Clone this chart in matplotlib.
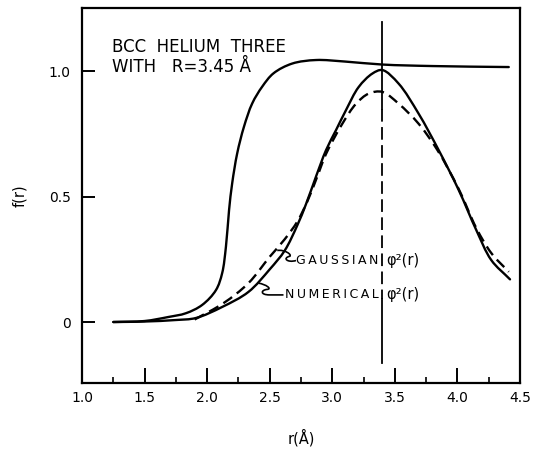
import numpy as np
import matplotlib.pyplot as plt
from matplotlib.path import Path
from matplotlib.patches import PathPatch
from matplotlib.ticker import FixedLocator

# --- data ---
r_f = [1.25, 1.5, 1.69, 1.83, 1.96, 2.07, 2.12, 2.15, 2.175, 2.20, 2.24, 2.294, 2.36,
       2.44, 2.53, 2.68, 2.87, 3.1, 3.4, 3.8, 4.41]
f_vals = [0.0, 0.004, 0.02, 0.035, 0.068, 0.127, 0.195, 0.30, 0.446, 0.553, 0.672, 0.778,
          0.871, 0.938, 0.991, 1.03, 1.044, 1.038, 1.026, 1.02, 1.016]

r_num = [1.25, 1.5, 1.75, 1.91, 2.12, 2.33, 2.5, 2.62, 2.72, 2.79, 2.87, 2.95, 3.03,
         3.11, 3.21, 3.32, 3.40, 3.53, 3.69, 3.85, 4.01, 4.15, 4.27, 4.42]
f_num = [0.0, 0.002, 0.008, 0.016, 0.06, 0.12, 0.21, 0.285, 0.385, 0.47, 0.58, 0.685, 0.765,
         0.845, 0.936, 0.99, 1.004, 0.95, 0.83, 0.685, 0.526, 0.367, 0.247, 0.17]

r_gau = [1.9, 2.13, 2.33, 2.5, 2.62, 2.72, 2.80, 2.88, 2.95, 3.08, 3.19, 3.29, 3.40,
         3.53, 3.69, 3.84, 4.01, 4.15, 4.27, 4.41]
f_gau = [0.01, 0.075, 0.155, 0.26, 0.33, 0.40, 0.48, 0.58, 0.67, 0.79, 0.87, 0.91, 0.917,
         0.87, 0.79, 0.685, 0.53, 0.375, 0.275, 0.2]

R_line = 3.40

x_ticks = [1.0, 1.5, 2.0, 2.5, 3.0, 3.5, 4.0, 4.5]
x_tick_labels = ['1.0', '1.5', '2.0', '2.5', '3.0', '3.5', '4.0', '4.5']
x_minor = [1.25, 1.75, 2.25, 2.75, 3.25, 3.75, 4.25]
y_ticks = [0.0, 0.5, 1.0]
y_tick_labels = ['0', '0.5', '1.0']

plt.rcParams['font.family'] = ['DejaVu Sans']

fig = plt.figure(figsize=(5.35, 4.49), dpi=100)
ax = fig.add_axes([0.1533, 0.147, 0.8187, 0.835])
ax.set_xlim(1.0, 4.5)
ax.set_ylim(-0.243, 1.251)

# scale factors so the smoothing works in (roughly) pixel-shaped space
SX, SY = 125.2, 251.0


def smooth_path(xs, ys, alpha=0.5):
    """Bezier path (centripetal Catmull-Rom) through the given data points."""
    pts = np.column_stack([np.asarray(xs, float) * SX, np.asarray(ys, float) * SY])
    n = len(pts)
    ext = np.vstack([2 * pts[0] - pts[1], pts, 2 * pts[-1] - pts[-2]])
    verts = [pts[0]]
    codes = [Path.MOVETO]
    for i in range(n - 1):
        p0, p1, p2, p3 = ext[i], ext[i + 1], ext[i + 2], ext[i + 3]
        d0 = max(np.linalg.norm(p1 - p0) ** alpha, 1e-9)
        d1 = max(np.linalg.norm(p2 - p1) ** alpha, 1e-9)
        d2 = max(np.linalg.norm(p3 - p2) ** alpha, 1e-9)
        m1 = ((p1 - p0) / d0 - (p2 - p0) / (d0 + d1) + (p2 - p1) / d1) * d1
        m2 = ((p2 - p1) / d1 - (p3 - p1) / (d1 + d2) + (p3 - p2) / d2) * d1
        verts += [p1 + m1 / 3.0, p2 - m2 / 3.0, p2]
        codes += [Path.CURVE4] * 3
    verts = np.array(verts) / np.array([SX, SY])
    return Path(verts, codes)


lw = 1.7
ax.add_patch(PathPatch(smooth_path(r_f, f_vals), fill=False, lw=lw, color='black',
                       capstyle='round', joinstyle='round'))
ax.add_patch(PathPatch(smooth_path(r_num, f_num), fill=False, lw=lw, color='black',
                       capstyle='round', joinstyle='round'))
ax.add_patch(PathPatch(smooth_path(r_gau, f_gau), fill=False, lw=lw, color='black',
                       ls=(0, (4.5, 2.5))))

# vertical line at R (partly broken in the reference)
ax.plot([R_line, R_line], [1.195, 0.85], color='black', lw=1.3)
ax.plot([R_line, R_line], [0.85, 0.09], color='black', lw=1.3, ls=(0, (7, 3)))
ax.plot([R_line, R_line], [0.09, -0.163], color='black', lw=1.3)

# spines
for s in ax.spines.values():
    s.set_linewidth(1.6)

ax.xaxis.set_major_locator(FixedLocator(x_ticks))
ax.set_xticklabels(x_tick_labels)
ax.xaxis.set_minor_locator(FixedLocator(x_minor))
ax.yaxis.set_major_locator(FixedLocator(y_ticks))
ax.set_yticklabels(y_tick_labels)
ax.tick_params(axis='x', which='major', direction='in', length=10.5, width=1.4,
               labelsize=10, pad=6, top=False)
ax.tick_params(axis='x', which='minor', direction='in', length=4.5, width=1.2, top=False)
ax.tick_params(axis='y', which='major', direction='in', length=9, width=1.4,
               labelsize=10, pad=8, right=False)

ax.set_xlabel('r(Å)', fontsize=10.5, labelpad=17)
ax.set_ylabel('f(r)', fontsize=10.5, labelpad=16)

# title text inside
ax.text(1.24, 1.096, 'BCC  HELIUM  THREE', fontsize=12, va='center', ha='left')
ax.text(1.24, 1.016, 'WITH   R=3.45 Å', fontsize=12, va='center', ha='left')

# curve labels (letter-spaced with thin spaces)
TS = '\u2009'
ax.text(R_line - 0.03, 0.247, TS.join('GAUSSIAN'), fontsize=9, ha='right', va='center')
ax.text(R_line + 0.03, 0.247, 'φ²(r)', fontsize=10.5, ha='left', va='center')
ax.text(R_line - 0.03, 0.108, TS.join('NUMERICAL'), fontsize=9, ha='right', va='center')
ax.text(R_line + 0.03, 0.108, 'φ²(r)', fontsize=10.5, ha='left', va='center')

# squiggly leaders
gau_leader = [(2.71, 0.245), (2.64, 0.235), (2.60, 0.255), (2.66, 0.262),
              (2.68, 0.268), (2.62, 0.29), (2.56, 0.285)]
gcodes = [Path.MOVETO] + [Path.CURVE4] * 6
ax.add_patch(PathPatch(Path(gau_leader, gcodes), fill=False, lw=1.2, color='black'))

num_leader = [(2.61, 0.108), (2.50, 0.108),
              (2.42, 0.108), (2.43, 0.128), (2.48, 0.13),
              (2.52, 0.132), (2.47, 0.15), (2.41, 0.155)]
ncodes = [Path.MOVETO, Path.LINETO] + [Path.CURVE4] * 6
ax.add_patch(PathPatch(Path(num_leader, ncodes), fill=False, lw=1.2, color='black'))

fig.savefig('out.png', dpi=100)
